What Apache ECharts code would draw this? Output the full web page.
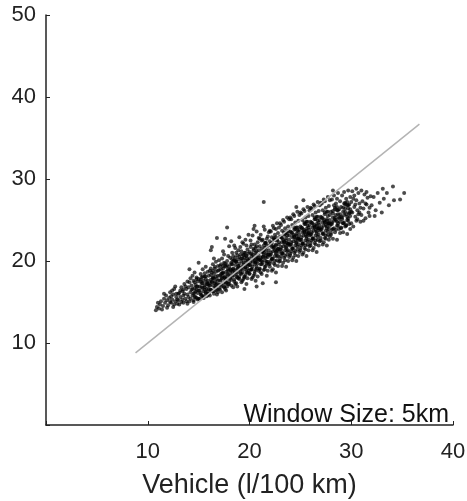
<!DOCTYPE html>
<html>
<head>
<meta charset="utf-8">
<script src="https://cdn.jsdelivr.net/npm/echarts@6/dist/echarts.min.js"></script>
<style>
html,body{margin:0;padding:0;background:#fff;}
#main{width:467px;height:501px;}
</style>
</head>
<body>
<div id="main"></div>
<script>
// tick values
var xTicks = [10, 20, 30, 40];
var yTicks = [10, 20, 30, 40, 50];
// reference line (y = x)
var refLine = [[8.8, 8.8], [36.7, 36.7]];
// scatter cloud, x,y pairs by x-bin
var cloud = [
 10.8,14.0, 10.9,14.4, 11.1,14.2, 11.2,14.7, 11.3,15.1, 11.5,14.5, 11.6,15.4, 11.7,14.9, 11.8,15.8, 11.9,14.3, 11.4,14.1, 11.0,14.9, 11.6,16.0, 11.9,15.2,
 12.0,14.6, 12.1,15.5, 12.2,16.2, 12.3,14.9, 12.4,15.3, 12.5,15.9, 12.5,14.4, 12.6,16.6, 12.7,15.1, 12.8,15.6, 12.9,14.8, 12.2,15.0, 12.4,16.4, 12.6,14.7, 12.8,16.0, 12.9,15.3, 12.3,15.7, 12.7,16.9,
 13.0,15.2, 13.1,16.1, 13.1,14.7, 13.2,15.6, 13.3,16.8, 13.3,15.0, 13.4,16.3, 13.5,14.9, 13.5,15.8, 13.6,17.2, 13.6,16.0, 13.7,15.4, 13.8,16.6, 13.8,15.1, 13.9,15.9, 13.9,17.5, 13.2,16.4, 13.4,15.3, 13.7,16.9, 13.0,16.0, 13.5,16.5, 13.9,14.8,
 14.0,15.6, 14.0,16.8, 14.1,15.1, 14.1,17.4, 14.2,16.2, 14.2,15.4, 14.3,17.0, 14.3,16.5, 14.4,15.8, 14.4,18.2, 14.5,16.0, 14.5,17.6, 14.5,15.2, 14.6,16.7, 14.6,15.6, 14.7,17.1, 14.7,16.3, 14.8,15.5, 14.8,18.0, 14.8,16.9, 14.9,16.1, 14.9,17.5, 14.9,15.3, 14.2,17.9, 14.6,18.6, 14.4,16.6, 14.1,19.0,
 15.0,16.4, 15.0,17.8, 15.1,15.4, 15.1,16.9, 15.2,18.4, 15.2,16.1, 15.3,17.3, 15.3,15.8, 15.4,19.0, 15.4,16.7, 15.5,17.6, 15.5,15.5, 15.5,16.3, 15.6,18.1, 15.6,17.0, 15.7,16.0, 15.7,19.3, 15.8,17.4, 15.8,15.7, 15.8,16.6, 15.9,18.7, 15.9,17.2, 15.9,15.9, 15.0,19.8, 15.3,18.0, 15.6,16.5, 15.2,17.5, 15.7,17.8, 15.4,15.6, 15.9,16.3,
 16.0,16.6, 16.0,18.2, 16.1,17.3, 16.1,15.8, 16.2,19.1, 16.2,17.7, 16.3,16.3, 16.3,18.6, 16.4,17.0, 16.4,19.6, 16.5,16.0, 16.5,17.9, 16.5,18.4, 16.6,16.8, 16.6,17.5, 16.7,19.9, 16.7,16.4, 16.7,18.1, 16.8,17.2, 16.8,15.9, 16.9,18.8, 16.9,17.6, 16.0,17.0, 16.2,16.5, 16.4,18.0, 16.6,19.3, 16.8,16.6, 16.9,19.4, 16.3,17.4, 16.5,20.3, 16.1,18.8, 16.7,17.1, 16.9,16.2, 16.2,21.3, 16.8,22.8, 16.3,21.7,
 17.0,17.1, 17.0,18.9, 17.1,16.5, 17.1,18.2, 17.2,19.6, 17.2,17.7, 17.3,16.2, 17.3,18.5, 17.3,20.3, 17.4,17.3, 17.4,19.1, 17.5,16.8, 17.5,18.0, 17.5,20.8, 17.6,17.6, 17.6,19.4, 17.6,22.7, 17.7,16.4, 17.7,18.7, 17.8,17.9, 17.8,20.0, 17.8,16.9, 17.9,19.0, 17.9,18.3, 17.0,20.1, 17.2,16.9, 17.4,18.6, 17.6,18.1, 17.8,19.5, 17.9,17.2, 17.1,19.4, 17.3,17.9, 17.5,19.8, 17.7,17.3, 17.9,20.6, 17.2,18.4, 17.6,16.6, 17.4,21.2, 17.8,24.1,
 18.0,17.5, 18.0,19.3, 18.1,18.6, 18.1,20.4, 18.2,17.0, 18.2,19.8, 18.3,18.1, 18.3,21.0, 18.4,16.8, 18.4,19.0, 18.5,20.1, 18.5,17.7, 18.5,18.8, 18.6,21.6, 18.6,19.5, 18.7,17.3, 18.7,18.4, 18.8,20.7, 18.8,19.1, 18.9,17.9, 18.9,21.3, 18.9,18.7, 18.0,21.8, 18.2,18.9, 18.4,20.6, 18.6,17.2, 18.8,18.0, 18.1,17.9, 18.3,19.6, 18.5,21.9, 18.7,19.9, 18.9,20.2, 18.4,18.3, 18.6,20.0, 18.2,22.4, 18.8,16.9, 18.3,20.2, 18.7,21.0, 18.1,19.0, 18.9,19.4,
 19.0,18.1, 19.0,20.5, 19.1,19.2, 19.1,21.7, 19.2,17.4, 19.2,20.0, 19.3,18.6, 19.3,22.3, 19.4,19.6, 19.4,17.8, 19.5,21.0, 19.5,19.0, 19.5,20.4, 19.6,18.3, 19.6,22.6, 19.7,19.8, 19.7,17.2, 19.8,21.4, 19.8,20.2, 19.9,18.8, 19.9,19.5, 19.0,22.9, 19.2,21.2, 19.4,20.8, 19.6,20.1, 19.8,17.9, 19.1,18.5, 19.3,20.3, 19.5,18.0, 19.7,21.9, 19.9,20.9, 19.2,19.0, 19.4,22.1, 19.6,19.3, 19.8,18.6, 19.0,19.7, 19.3,17.6, 19.7,20.6, 19.9,23.2, 19.5,16.6, 19.1,20.8, 19.8,19.1,
 20.0,18.5, 20.0,21.1, 20.1,19.9, 20.1,22.5, 20.2,17.8, 20.2,20.6, 20.3,19.3, 20.3,23.1, 20.4,21.5, 20.4,18.2, 20.5,20.0, 20.5,22.0, 20.5,19.6, 20.6,17.6, 20.6,21.0, 20.7,23.6, 20.7,19.1, 20.8,20.4, 20.8,22.3, 20.9,18.8, 20.9,21.3, 20.0,19.5, 20.2,22.0, 20.4,20.3, 20.6,18.9, 20.8,19.7, 20.1,21.7, 20.3,20.8, 20.5,18.4, 20.7,21.8, 20.9,20.1, 20.2,19.0, 20.4,23.9, 20.6,20.7, 20.8,18.1, 20.0,20.3, 20.3,18.0, 20.7,20.3, 20.9,22.8, 20.1,18.9, 20.5,24.3, 20.6,19.9, 20.7,16.9,
 21.0,19.1, 21.0,21.8, 21.1,20.4, 21.1,23.2, 21.2,18.4, 21.2,21.1, 21.3,19.8, 21.3,17.3, 21.3,22.6, 21.4,20.8, 21.4,18.9, 21.5,21.6, 21.5,23.8, 21.5,20.1, 21.6,19.4, 21.6,22.2, 21.7,18.2, 21.7,21.0, 21.8,20.5, 21.8,23.0, 21.9,19.6, 21.9,21.9, 21.0,20.2, 21.2,22.5, 21.4,21.3, 21.6,20.6, 21.8,18.8, 21.1,19.6, 21.3,21.2, 21.5,19.0, 21.7,22.7, 21.9,20.8, 21.2,20.0, 21.4,24.2, 21.6,21.4, 21.8,19.9, 21.0,22.7, 21.5,22.2, 21.7,19.7, 21.9,23.5, 21.3,20.5, 21.1,18.6, 21.4,27.2,
 22.0,19.3, 22.0,22.4, 22.1,21.0, 22.1,23.6, 22.2,18.8, 22.2,21.7, 22.3,20.3, 22.3,24.3, 22.4,22.8, 22.4,19.7, 22.5,21.3, 22.5,23.2, 22.5,20.6, 22.6,18.6, 22.6,22.0, 22.7,24.6, 22.7,20.1, 22.8,21.5, 22.8,23.4, 22.9,19.9, 22.9,22.3, 22.0,20.7, 22.2,22.9, 22.4,21.6, 22.6,20.9, 22.8,19.4, 22.1,22.1, 22.3,21.8, 22.5,19.5, 22.7,22.6, 22.9,21.1, 22.2,20.2, 22.4,24.0, 22.6,21.9, 22.8,20.6, 22.0,23.7, 22.3,19.0, 22.7,21.3, 22.9,24.1, 22.1,20.0, 22.5,22.6, 22.6,23.9, 22.6,17.4,
 23.0,20.0, 23.0,23.0, 23.1,21.7, 23.1,24.4, 23.2,19.4, 23.2,22.3, 23.3,20.9, 23.3,25.0, 23.4,23.5, 23.4,20.4, 23.5,22.0, 23.5,24.0, 23.5,21.3, 23.6,19.3, 23.6,22.8, 23.7,25.3, 23.7,20.8, 23.8,22.1, 23.8,24.2, 23.9,20.5, 23.9,23.1, 23.0,21.4, 23.2,23.7, 23.4,22.4, 23.6,21.6, 23.8,20.0, 23.1,22.9, 23.3,22.6, 23.5,20.1, 23.7,23.4, 23.9,21.9, 23.2,21.0, 23.4,24.8, 23.6,22.5, 23.8,21.3, 23.0,24.6, 23.3,19.8, 23.7,22.2, 23.9,25.1, 23.1,20.6, 23.5,23.3, 23.8,23.7,
 24.0,20.7, 24.0,23.6, 24.1,22.3, 24.1,25.1, 24.2,20.1, 24.2,22.9, 24.3,21.5, 24.3,25.7, 24.4,24.1, 24.4,21.0, 24.5,22.6, 24.5,24.7, 24.5,21.9, 24.6,20.0, 24.6,23.3, 24.7,26.0, 24.7,21.4, 24.8,22.8, 24.8,24.9, 24.9,21.1, 24.9,23.8, 24.0,22.0, 24.2,24.4, 24.4,23.0, 24.6,22.2, 24.8,20.6, 24.1,23.5, 24.3,23.2, 24.5,20.7, 24.7,24.1, 24.9,22.5, 24.2,21.6, 24.4,25.5, 24.6,23.1, 24.8,22.0, 24.0,25.3, 24.3,20.4, 24.7,22.7, 24.9,25.6, 24.1,21.2, 24.5,23.9, 24.8,23.6, 24.6,26.6,
 25.0,21.3, 25.0,24.2, 25.1,22.9, 25.1,25.8, 25.2,20.8, 25.2,23.5, 25.3,22.1, 25.3,26.3, 25.4,24.7, 25.4,21.6, 25.5,23.2, 25.5,25.3, 25.5,22.5, 25.6,20.6, 25.6,23.9, 25.7,26.6, 25.7,22.0, 25.8,23.4, 25.8,25.5, 25.9,21.8, 25.9,24.4, 25.0,22.6, 25.2,25.0, 25.4,23.6, 25.6,22.8, 25.8,21.3, 25.1,24.1, 25.3,23.8, 25.5,21.4, 25.7,24.8, 25.9,23.1, 25.2,22.2, 25.4,26.1, 25.6,23.7, 25.8,22.6, 25.0,25.9, 25.3,21.0, 25.7,23.3, 25.9,26.2, 25.1,21.9, 25.5,24.5, 25.8,24.1, 25.3,27.4,
 26.0,21.9, 26.0,24.8, 26.1,23.5, 26.1,26.4, 26.2,21.3, 26.2,24.1, 26.3,22.7, 26.3,26.9, 26.4,25.3, 26.4,22.2, 26.5,23.8, 26.5,25.9, 26.5,23.1, 26.6,21.1, 26.6,24.5, 26.7,27.2, 26.7,22.6, 26.8,24.0, 26.8,26.1, 26.9,22.4, 26.9,25.0, 26.0,23.2, 26.2,25.6, 26.4,24.2, 26.6,23.4, 26.8,21.9, 26.1,24.7, 26.3,24.4, 26.5,22.0, 26.7,25.4, 26.9,23.7, 26.2,22.8, 26.4,26.7, 26.6,24.3, 26.8,23.2, 26.0,26.5, 26.3,21.6, 26.7,24.0, 26.9,26.8, 26.1,22.5, 26.5,25.1, 26.8,24.7,
 27.0,22.5, 27.0,25.4, 27.1,24.1, 27.1,27.0, 27.2,22.0, 27.2,24.7, 27.3,23.3, 27.3,27.5, 27.4,25.9, 27.4,22.8, 27.5,24.4, 27.5,26.5, 27.5,23.7, 27.6,21.9, 27.6,25.1, 27.7,27.8, 27.7,23.2, 27.8,24.6, 27.8,26.7, 27.9,23.0, 27.9,25.6, 27.0,23.8, 27.2,26.2, 27.4,24.8, 27.6,24.0, 27.8,22.6, 27.1,25.3, 27.3,25.0, 27.5,22.7, 27.7,26.0, 27.9,24.3, 27.2,23.4, 27.4,27.3, 27.6,24.9, 27.8,23.9, 27.0,27.1, 27.3,22.3, 27.7,24.6, 27.9,27.4,
 28.0,23.2, 28.0,26.0, 28.1,24.7, 28.1,27.5, 28.2,22.7, 28.2,25.3, 28.3,24.0, 28.3,28.0, 28.4,26.5, 28.4,23.5, 28.5,25.0, 28.5,27.0, 28.6,24.3, 28.6,22.6, 28.7,25.7, 28.7,28.3, 28.8,23.9, 28.8,26.3, 28.9,24.8, 28.9,27.3, 28.1,23.8, 28.3,26.8, 28.5,25.6, 28.7,24.6, 28.9,23.4, 28.2,26.1, 28.4,25.1, 28.6,27.6, 28.8,25.2, 28.0,24.5, 28.6,26.2, 28.2,28.6,
 29.0,24.0, 29.0,26.6, 29.1,25.3, 29.1,28.0, 29.2,23.5, 29.2,26.0, 29.3,24.7, 29.3,28.4, 29.4,27.1, 29.4,24.2, 29.5,25.7, 29.5,27.6, 29.6,25.0, 29.6,23.3, 29.7,26.4, 29.7,28.6, 29.8,24.5, 29.8,26.9, 29.9,25.5, 29.9,27.8, 29.2,24.6, 29.4,26.4, 29.6,26.8, 29.8,25.8, 29.0,25.4, 29.5,24.3, 29.3,27.0, 29.7,25.2, 29.9,23.9,
 30.0,24.6, 30.0,27.2, 30.1,25.9, 30.1,28.5, 30.2,24.2, 30.3,26.6, 30.3,28.0, 30.4,25.4, 30.5,27.4, 30.5,24.9, 30.6,26.2, 30.7,28.3, 30.7,25.7, 30.8,27.0, 30.9,24.8, 30.9,26.5, 30.2,27.6, 30.4,26.9, 30.6,25.1, 30.8,25.9, 30.0,26.0, 30.5,28.8,
 31.0,25.6, 31.1,27.3, 31.2,26.4, 31.3,28.1, 31.4,25.2, 31.5,26.9, 31.6,27.7, 31.7,25.9, 31.8,26.5, 31.9,27.9, 31.2,24.9, 31.5,28.4, 31.8,25.5, 31.0,28.6, 31.4,27.0,
 32.0,26.8, 32.2,27.8, 32.4,26.2, 32.6,28.3, 32.8,27.1, 33.0,25.9, 33.2,27.6, 33.5,28.3, 33.7,26.8, 34.2,27.4, 34.1,29.1, 34.8,27.5, 35.2,28.3, 32.3,25.5, 33.1,28.8
];
// dense dark band in the middle of the cloud
var core = [
 14.5,15.0, 14.7,15.6, 14.6,16.1, 14.8,16.5, 14.9,16.9, 14.6,17.4, 14.8,17.8,
 15.0,15.4, 15.2,15.9, 15.1,16.4, 15.3,16.8, 15.4,17.3, 15.2,17.7, 15.4,18.1,
 15.5,15.7, 15.7,16.2, 15.6,16.8, 15.8,17.2, 15.9,17.6, 15.7,18.1, 15.6,18.5,
 16.0,16.0, 16.2,16.5, 16.1,17.0, 16.3,17.5, 16.4,17.9, 16.2,18.3, 16.4,18.8,
 16.5,16.3, 16.7,16.8, 16.6,17.3, 16.8,17.8, 16.9,18.2, 16.7,18.7, 16.6,19.1,
 17.0,16.6, 17.2,17.1, 17.1,17.6, 17.3,18.1, 17.4,18.5, 17.2,19.0, 17.4,19.4,
 17.5,16.9, 17.7,17.4, 17.6,17.9, 17.8,18.4, 17.9,18.8, 17.7,19.3, 17.6,19.7,
 18.0,17.2, 18.2,17.7, 18.1,18.2, 18.3,18.7, 18.4,19.1, 18.2,19.6, 18.4,20.0,
 18.5,17.5, 18.7,18.1, 18.6,18.6, 18.8,19.0, 18.9,19.4, 18.7,19.9, 18.6,20.4,
 19.0,17.8, 19.2,18.4, 19.1,18.9, 19.3,19.3, 19.4,19.8, 19.2,20.3, 19.4,20.7,
 19.5,18.1, 19.7,18.7, 19.6,19.2, 19.8,19.6, 19.9,20.1, 19.7,20.6, 19.6,21.0,
 20.0,18.4, 20.2,19.0, 20.1,19.5, 20.3,19.9, 20.4,20.4, 20.2,20.9, 20.4,21.3,
 20.5,18.7, 20.7,19.3, 20.6,19.8, 20.8,20.2, 20.9,20.7, 20.7,21.2, 20.6,21.6,
 21.0,19.0, 21.2,19.6, 21.1,20.1, 21.3,20.5, 21.4,21.0, 21.2,21.5, 21.4,21.9,
 21.5,19.3, 21.7,19.9, 21.6,20.4, 21.8,20.8, 21.9,21.3, 21.7,21.8, 21.6,22.2,
 22.0,19.7, 22.2,20.3, 22.1,20.8, 22.3,21.2, 22.4,21.7, 22.2,22.2, 22.4,22.6,
 22.5,20.0, 22.7,20.6, 22.6,21.1, 22.8,21.5, 22.9,22.0, 22.7,22.5, 22.6,22.9,
 23.0,20.3, 23.2,20.9, 23.1,21.4, 23.3,21.8, 23.4,22.3, 23.2,22.8, 23.4,23.2,
 23.5,20.6, 23.7,21.2, 23.6,21.7, 23.8,22.1, 23.9,22.6, 23.7,23.1, 23.6,23.5,
 24.0,20.9, 24.2,21.5, 24.1,22.0, 24.3,22.4, 24.4,22.9, 24.2,23.4, 24.4,23.8,
 24.5,21.2, 24.7,21.8, 24.6,22.3, 24.8,22.7, 24.9,23.2, 24.7,23.7, 24.6,24.1,
 25.0,21.6, 25.2,22.1, 25.1,22.6, 25.3,23.1, 25.4,23.5, 25.2,24.0, 25.4,24.5,
 25.5,21.9, 25.7,22.4, 25.6,23.0, 25.8,23.4, 25.9,23.8, 25.7,24.3, 25.6,24.8,
 26.0,22.2, 26.2,22.7, 26.1,23.3, 26.3,23.7, 26.4,24.1, 26.2,24.6, 26.4,25.1,
 26.5,22.5, 26.7,23.0, 26.6,23.6, 26.8,24.0, 26.9,24.4, 26.7,24.9, 26.6,25.4,
 27.0,22.8, 27.2,23.3, 27.1,23.9, 27.3,24.3, 27.4,24.7, 27.2,25.2, 27.4,25.7,
 27.5,23.1, 27.7,23.6, 27.6,24.2, 27.8,24.6, 27.9,25.0, 27.7,25.5, 27.6,26.0,
 28.0,23.4, 28.2,23.9, 28.1,24.5, 28.3,24.9, 28.4,25.3, 28.2,25.8, 28.4,26.3,
 28.5,23.8, 28.7,24.3, 28.6,24.8, 28.8,25.3, 28.9,25.7, 28.7,26.2, 28.6,26.6,
 29.0,24.1, 29.2,24.6, 29.1,25.1, 29.3,25.6, 29.4,26.0, 29.2,26.5, 29.4,26.9,
 29.5,24.4, 29.7,24.9, 29.6,25.4, 29.8,25.9, 29.9,26.3, 29.7,26.8, 29.6,27.2
];

function toPairs(flat) {
    var out = [];
    for (var i = 0; i < flat.length; i += 2) {
        out.push([flat[i], flat[i + 1]]);
    }
    return out;
}
var pts = toPairs(cloud).concat(toPairs(core));

var myChart = echarts.init(document.getElementById('main'));
var fontFamily = 'Liberation Sans';
var option = {
    animation: false,
    title: {
        text: 'Window Size: 5km',
        right: 13,
        top: 398,
        textStyle: { fontFamily: fontFamily, fontSize: 25, fontWeight: 'normal', color: '#111' }
    },
    grid: { left: 46, right: 14, top: 15, bottom: 76, outerBoundsMode: 'none' },
    xAxis: {
        type: 'value',
        min: 0, max: 40, interval: 10,
        name: 'Vehicle (l/100 km)',
        nameLocation: 'middle',
        nameGap: 47,
        nameTextStyle: { fontFamily: fontFamily, fontSize: 27, color: '#222' },
        axisLine: { lineStyle: { color: '#222', width: 1.5 } },
        axisTick: { inside: true, length: 4, lineStyle: { color: '#222' } },
        axisLabel: {
            margin: 16,
            fontFamily: fontFamily, fontSize: 22, color: '#222',
            formatter: function (v) { return xTicks.indexOf(v) >= 0 ? String(v) : ''; }
        },
        splitLine: { show: false }
    },
    yAxis: {
        type: 'value',
        min: 0, max: 50, interval: 10,
        axisLine: { show: true, lineStyle: { color: '#222', width: 1.5 } },
        axisTick: { show: true, inside: true, length: 4, lineStyle: { color: '#222' } },
        axisLabel: {
            margin: 10,
            fontFamily: fontFamily, fontSize: 22, color: '#222',
            formatter: function (v) { return yTicks.indexOf(v) >= 0 ? String(v) : ''; }
        },
        splitLine: { show: false }
    },
    series: [
        {
            type: 'scatter',
            data: pts,
            symbolSize: 4,
            itemStyle: { color: 'rgba(0,0,0,0.88)' },
            z: 2
        },
        {
            type: 'line',
            data: refLine,
            symbol: 'none',
            lineStyle: { color: '#b4b4b4', width: 1.5 },
            z: 3
        }
    ]
};
myChart.setOption(option);
</script>
</body>
</html>
